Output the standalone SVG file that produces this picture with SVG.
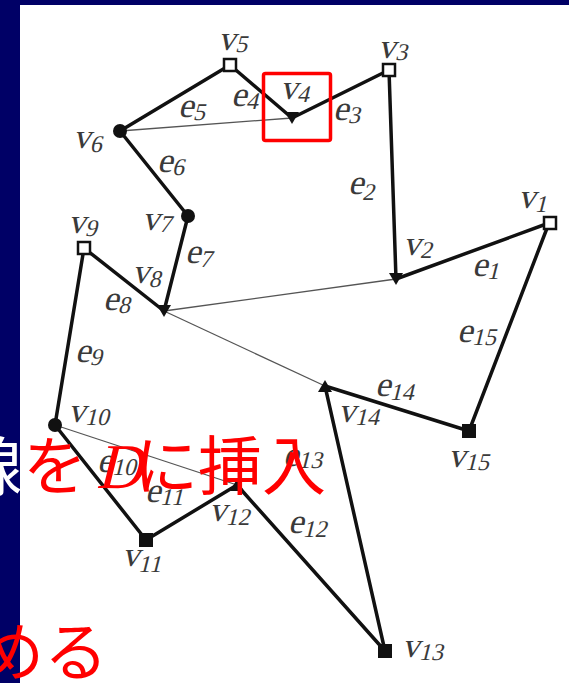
<svg xmlns="http://www.w3.org/2000/svg" xmlns:xlink="http://www.w3.org/1999/xlink" width="569" height="683" viewBox="0 0 569 683">
<style>
.edge{stroke:#111;stroke-width:3.5;fill:none;stroke-linecap:round;stroke-linejoin:round}
.diag{stroke:#555;stroke-width:1.3;fill:none}
.lbl{font-family:'Liberation Serif',serif;font-size:35px;fill:#3a3a3a}
.sub{font-size:24px}
.fill{fill:#111}
.open{fill:#fff;stroke:#111;stroke-width:2.5}
.red{font-family:'Noto Sans CJK JP',sans-serif;font-size:64px;fill:#ff0000}
.redD{font-family:'Liberation Serif',serif;font-size:64px;fill:#ff0000}
</style>
<defs>
<rect id="sq" x="-6" y="-6" width="12" height="12"/>
<path id="tdown" d="M-7,-5 L7,-5 L0,7 Z"/>
<path id="tup" d="M-7,5 L7,5 L0,-7 Z"/>
</defs>
<rect x="0" y="0" width="569" height="683" fill="#000066"/>
<text x="-42" y="490" font-family="Noto Sans CJK JP, sans-serif" font-size="64" fill="#ffffff">線</text>
<rect x="20" y="5" width="549" height="678" fill="#ffffff"/>
<g id="connectors">
<path class="edge" d="M549,223 L396,279 L389,70 L292,118 L230,65 L120,131 L188,216 L164,311 L84,248 L55,425 L146,540 L237,485 L385,651 L325,386 L469,431 Z"/>
<line class="diag" x1="292" y1="118" x2="120" y2="131"/>
<line class="diag" x1="396" y1="279" x2="164" y2="311"/>
<line class="diag" x1="164" y1="311" x2="325" y2="386"/>
<line class="diag" x1="55" y1="425" x2="237" y2="485"/>
</g>
<g id="edge-labels">
<text class="lbl" transform="translate(472,276) skewX(-14)">e<tspan class="sub" dy="3">1</tspan></text>
<text class="lbl" transform="translate(348,194) skewX(-14)">e<tspan class="sub" dy="6">2</tspan></text>
<text class="lbl" transform="translate(333,120) skewX(-14)">e<tspan class="sub" dy="3">3</tspan></text>
<text class="lbl" transform="translate(231,106) skewX(-14)">e<tspan class="sub" dy="3">4</tspan></text>
<text class="lbl" transform="translate(178,117) skewX(-14)">e<tspan class="sub" dy="3">5</tspan></text>
<text class="lbl" transform="translate(157,172) skewX(-14)">e<tspan class="sub" dy="3">6</tspan></text>
<text class="lbl" transform="translate(185,263) skewX(-14)">e<tspan class="sub" dy="4">7</tspan></text>
<text class="lbl" transform="translate(103,310) skewX(-14)">e<tspan class="sub" dy="3">8</tspan></text>
<text class="lbl" transform="translate(75,362) skewX(-14)">e<tspan class="sub" dy="3">9</tspan></text>
<text class="lbl" transform="translate(97,472) skewX(-14)">e<tspan class="sub" dy="3">10</tspan></text>
<text class="lbl" transform="translate(145,502) skewX(-14)">e<tspan class="sub" dy="3">11</tspan></text>
<text class="lbl" transform="translate(288,533) skewX(-14)">e<tspan class="sub" dy="4">12</tspan></text>
<text class="lbl" transform="translate(283,466) skewX(-14)">e<tspan class="sub" dy="2">13</tspan></text>
<text class="lbl" transform="translate(375,396) skewX(-14)">e<tspan class="sub" dy="4">14</tspan></text>
<text class="lbl" transform="translate(457,342) skewX(-14)">e<tspan class="sub" dy="3">15</tspan></text>
</g>
<g id="v1"><use xlink:href="#sq" class="open" x="550" y="223"/><text class="lbl" transform="translate(518,208) skewX(-14)">v<tspan class="sub" dy="4">1</tspan></text></g>
<g id="v2"><use xlink:href="#tdown" class="fill" x="396" y="278"/><text class="lbl" transform="translate(403,255) skewX(-14)">v<tspan class="sub" dy="3">2</tspan></text></g>
<g id="v3"><use xlink:href="#sq" class="open" x="389" y="70"/><text class="lbl" transform="translate(378,58) skewX(-14)">v<tspan class="sub" dy="2">3</tspan></text></g>
<g id="v4"><use xlink:href="#tdown" class="fill" x="292" y="117"/><text class="lbl" transform="translate(280,99) skewX(-14)">v<tspan class="sub" dy="3">4</tspan></text></g>
<g id="v5"><use xlink:href="#sq" class="open" x="230" y="65"/><text class="lbl" transform="translate(218,50) skewX(-14)">v<tspan class="sub" dy="2">5</tspan></text></g>
<g id="v6"><circle class="fill" cx="120" cy="131" r="7"/><text class="lbl" transform="translate(73,148) skewX(-14)">v<tspan class="sub" dy="4">6</tspan></text></g>
<g id="v7"><circle class="fill" cx="188" cy="216" r="7"/><text class="lbl" transform="translate(142,230) skewX(-14)">v<tspan class="sub" dy="2">7</tspan></text></g>
<g id="v8"><use xlink:href="#tdown" class="fill" x="164" y="310"/><text class="lbl" transform="translate(132,283) skewX(-14)">v<tspan class="sub" dy="4">8</tspan></text></g>
<g id="v9"><use xlink:href="#sq" class="open" x="84" y="248"/><text class="lbl" transform="translate(68,233) skewX(-14)">v<tspan class="sub" dy="3">9</tspan></text></g>
<g id="v10"><circle class="fill" cx="55" cy="425" r="7"/><text class="lbl" transform="translate(68,422) skewX(-14)">v<tspan class="sub" dy="3">10</tspan></text></g>
<g id="v11"><rect class="fill" x="139" y="533" width="14" height="14"/><text class="lbl" transform="translate(122,566) skewX(-14)">v<tspan class="sub" dy="6">11</tspan></text></g>
<g id="v12"><use xlink:href="#tup" class="fill" x="237" y="486"/><text class="lbl" transform="translate(209,521) skewX(-14)">v<tspan class="sub" dy="4">12</tspan></text></g>
<g id="v13"><rect class="fill" x="378" y="644" width="14" height="14"/><text class="lbl" transform="translate(402,657) skewX(-14)">v<tspan class="sub" dy="3">13</tspan></text></g>
<g id="v14"><use xlink:href="#tup" class="fill" x="325" y="387"/><text class="lbl" transform="translate(338,422) skewX(-14)">v<tspan class="sub" dy="3">14</tspan></text></g>
<g id="v15"><rect class="fill" x="462" y="424" width="14" height="14"/><text class="lbl" transform="translate(448,467) skewX(-14)">v<tspan class="sub" dy="3">15</tspan></text></g>
<rect x="263.5" y="73.5" width="67" height="67" rx="2" fill="none" stroke="#ff0000" stroke-width="3.5"/>
<text class="red" x="23" y="489">を</text>
<text class="redD" transform="translate(96,488) skewX(-14)">D</text>
<text class="red" x="134" y="489">に挿入</text>
<text class="red" x="-20" y="675">める</text>
</svg>
